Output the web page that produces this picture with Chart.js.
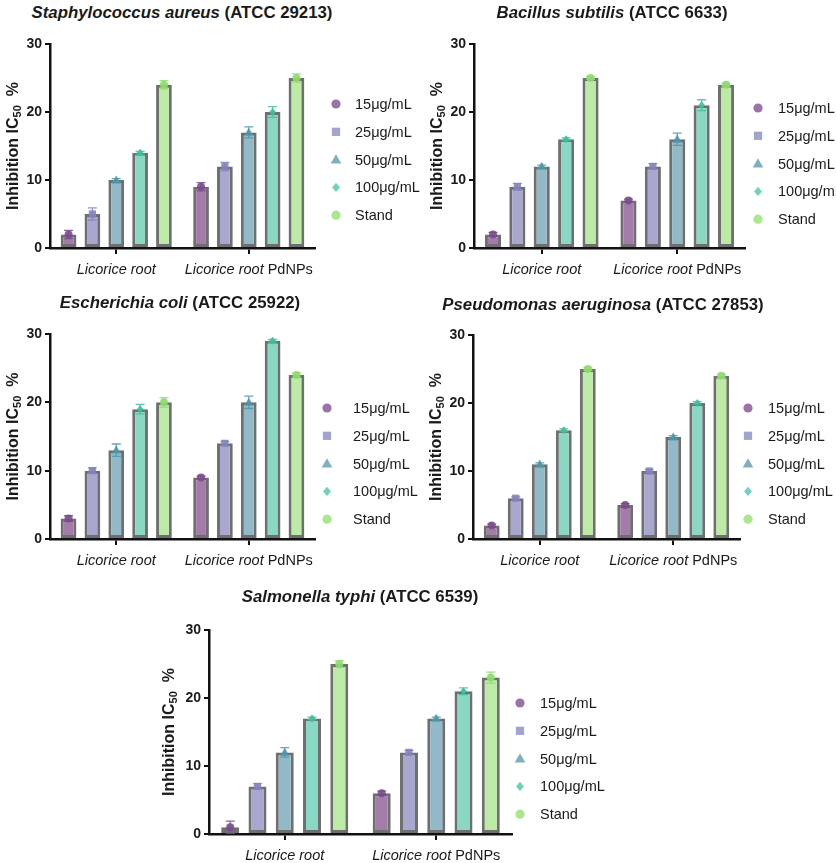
<!DOCTYPE html>
<html><head><meta charset="utf-8">
<script src="https://cdn.jsdelivr.net/npm/chart.js@4.4.0/dist/chart.umd.min.js"></script>
<style>
html,body{margin:0;padding:0;background:#fff;}
#wrap{position:relative;width:836px;height:863px;overflow:hidden;background:#fff;}
#wrap canvas{position:absolute;left:0;top:0;}
.ttl{position:absolute;width:440px;text-align:center;font:bold 16.8px "Liberation Sans",Arial,sans-serif;color:#1a1a1a;white-space:nowrap;line-height:20px;}
</style></head><body><div id="wrap"></div>
<script>
// ---- data ----
const categories = ['Licorice root', 'Licorice root PdNPs'];
const seriesLabels = ['15μg/mL', '25μg/mL', '50μg/mL', '100μg/mL', 'Stand'];
const yTicks = [0, 10, 20, 30];

// Staphylococcus aureus (ATCC 29213)
const saRoot = [2, 5, 10, 14, 24];
const saPdNPs = [9, 12, 17, 20, 25];
const saRootErr = [0.6, 0.9, 0.2, 0.2, 0.6];
const saPdNPsErr = [0.6, 0.6, 0.8, 0.8, 0.6];
// Bacillus subtilis (ATCC 6633)
const bsRoot = [2, 9, 12, 16, 25];
const bsPdNPs = [7, 12, 16, 21, 24];
const bsRootErr = [0.3, 0.5, 0.2, 0.2, 0.2];
const bsPdNPsErr = [0.2, 0.4, 0.9, 0.8, 0.2];
// Escherichia coli (ATCC 25922)
const ecRoot = [3, 10, 13, 19, 20];
const ecPdNPs = [9, 14, 20, 29, 24];
const ecRootErr = [0.4, 0.4, 0.9, 0.7, 0.7];
const ecPdNPsErr = [0.2, 0.3, 0.9, 0.2, 0.3];
// Pseudomonas aeruginosa (ATCC 27853)
const paRoot = [2, 6, 11, 16, 25];
const paPdNPs = [5, 10, 15, 20, 24];
const paRootErr = [0.2, 0.2, 0.2, 0.2, 0.2];
const paPdNPsErr = [0.2, 0.2, 0.2, 0.2, 0.2];
// Salmonella typhi (ATCC 6539)
const stRoot = [1, 7, 12, 17, 25];
const stPdNPs = [6, 12, 17, 21, 23];
const stRootErr = [0.9, 0.4, 0.7, 0.2, 0.5];
const stPdNPsErr = [0.3, 0.3, 0.2, 0.5, 0.8];

// ---- styles ----
const FONT = '"Liberation Sans", Arial, sans-serif';
const barFill = ['#a47ca9', '#a7a7cf', '#92b9c7', '#89d8c4', '#bceba5'];
const markerCol = ['#7a4b8c', '#8383bd', '#4d97ad', '#3dbf9f', '#8edc6d'];
const legendCol = ['#9b73a8', '#a3a3cf', '#80b0c0', '#6fd3b9', '#a9e891'];
const markerStyle = ['circle', 'rect', 'triangle', 'rectRot', 'circle'];

const panels = [
  {title: ['Staphylococcus aureus', ' (ATCC 29213)'], root: saRoot, pd: saPdNPs, rootErr: saRootErr, pdErr: saPdNPsErr,
   area: {l: 50, r: 315, t: 44, b: 248}, tc: [182, 13], ytx: 12, leg: {mx: 336, tx: 355, y0: 104}},
  {title: ['Bacillus subtilis', ' (ATCC 6633)'], root: bsRoot, pd: bsPdNPs, rootErr: bsRootErr, pdErr: bsPdNPsErr,
   area: {l: 474, r: 745, t: 44, b: 248}, tc: [612, 13], ytx: 436, leg: {mx: 758, tx: 778, y0: 108}},
  {title: ['Escherichia coli', ' (ATCC 25922)'], root: ecRoot, pd: ecPdNPs, rootErr: ecRootErr, pdErr: ecPdNPsErr,
   area: {l: 50, r: 315, t: 334, b: 539}, tc: [180, 303], ytx: 12, leg: {mx: 327, tx: 353, y0: 408}},
  {title: ['Pseudomonas aeruginosa', ' (ATCC 27853)'], root: paRoot, pd: paPdNPs, rootErr: paRootErr, pdErr: paPdNPsErr,
   area: {l: 473, r: 740, t: 335, b: 539}, tc: [603, 305], ytx: 435, leg: {mx: 748, tx: 768, y0: 408}},
  {title: ['Salmonella typhi', ' (ATCC 6539)'], root: stRoot, pd: stPdNPs, rootErr: stRootErr, pdErr: stPdNPsErr,
   area: {l: 209, r: 512, t: 630, b: 834}, tc: [360, 597], ytx: 168, leg: {mx: 520, tx: 540, y0: 703}}
];

function shape(ctx, style, x, y, r) {
  ctx.beginPath();
  if (style === 'circle') { ctx.arc(x, y, r, 0, Math.PI * 2); }
  else if (style === 'rect') { const s = r * 0.9; ctx.rect(x - s, y - s, 2 * s, 2 * s); }
  else if (style === 'triangle') { const h = r * 1.15; ctx.moveTo(x, y - h); ctx.lineTo(x + h, y + h * 0.75); ctx.lineTo(x - h, y + h * 0.75); ctx.closePath(); }
  else if (style === 'rectRot') { ctx.moveTo(x, y - r); ctx.lineTo(x + r * 0.85, y); ctx.lineTo(x, y + r); ctx.lineTo(x - r * 0.85, y); ctx.closePath(); }
  ctx.fill();
}

const decorPlugin = {
  id: 'decor',
  afterDatasetsDraw(chart, args, opts) {
    const ctx = chart.ctx, ys = chart.scales.y;
    ctx.save();
    chart.data.datasets.forEach((ds, d) => {
      const meta = chart.getDatasetMeta(d);
      meta.data.forEach((el, i) => {
        const v = ds.data[i], e = ds.errors[i];
        const x = el.x, yTop = ys.getPixelForValue(v + e), yBot = ys.getPixelForValue(v - e);
        ctx.strokeStyle = ds.markerColor; ctx.globalAlpha = 0.85; ctx.lineWidth = 1.3;
        ctx.beginPath();
        ctx.moveTo(x, yTop); ctx.lineTo(x, yBot);
        ctx.moveTo(x - 4.5, yTop); ctx.lineTo(x + 4.5, yTop);
        ctx.moveTo(x - 4.5, yBot); ctx.lineTo(x + 4.5, yBot);
        ctx.stroke();
        ctx.globalAlpha = 0.9;
        ctx.fillStyle = ds.markerColor;
        shape(ctx, ds.pointStyle, x, el.y, 4);
      });
    });
    ctx.restore();
  },
  afterDraw(chart, args, opts) {
    const ctx = chart.ctx, xs = chart.scales.x, area = chart.chartArea;
    ctx.save();
    // category labels (italic species part + normal suffix)
    ctx.textBaseline = 'middle'; ctx.fillStyle = '#1a1a1a';
    chart.data.labels.forEach((lab, i) => {
      const it = 'Licorice root';
      const rest = lab.slice(it.length);
      ctx.font = 'italic 14.5px ' + FONT; const w1 = ctx.measureText(it).width;
      ctx.font = '14.5px ' + FONT; const w2 = ctx.measureText(rest).width;
      const cx = xs.getPixelForValue(i), x0 = cx - (w1 + w2) / 2, y = area.bottom + 22;
      ctx.textAlign = 'left';
      ctx.font = 'italic 14.5px ' + FONT; ctx.fillText(it, x0, y);
      ctx.font = '14.5px ' + FONT; ctx.fillText(rest, x0 + w1, y);
    });
    // y axis title with subscript
    const cy = (area.top + area.bottom) / 2;
    ctx.translate(opts.ytx, cy); ctx.rotate(-Math.PI / 2);
    const a = 'Inhibition IC', s = '50', b = '  %';
    ctx.font = 'bold 16px ' + FONT; const wa = ctx.measureText(a).width, wb = ctx.measureText(b).width;
    ctx.font = 'bold 11px ' + FONT; const ws = ctx.measureText(s).width;
    let x = -(wa + ws + wb) / 2;
    ctx.textBaseline = 'alphabetic'; ctx.textAlign = 'left';
    ctx.font = 'bold 16px ' + FONT; ctx.fillText(a, x, 6); x += wa;
    ctx.font = 'bold 11px ' + FONT; ctx.fillText(s, x, 9); x += ws;
    ctx.font = 'bold 16px ' + FONT; ctx.fillText(b, x, 6);
    ctx.restore();
    // legend
    ctx.save();
    ctx.textBaseline = 'middle'; ctx.textAlign = 'left';
    ctx.font = '14.5px ' + FONT;
    chart.data.datasets.forEach((ds, i) => {
      const y = opts.y0 + i * 27.8;
      ctx.fillStyle = ds.legendColor;
      shape(ctx, ds.pointStyle, opts.mx, y, 4.6);
      ctx.fillStyle = '#1a1a1a';
      ctx.fillText(ds.label, opts.tx, y + 1);
    });
    ctx.restore();
  }
};

const wrap = document.getElementById('wrap');
panels.forEach(p => {
  const t = document.createElement('div');
  t.className = 'ttl';
  t.style.left = (p.tc[0] - 220) + 'px';
  t.style.top = (p.tc[1] - 10) + 'px';
  const em = document.createElement('i'); em.textContent = p.title[0];
  t.appendChild(em); t.appendChild(document.createTextNode(p.title[1]));
  wrap.appendChild(t);

  const cv = document.createElement('canvas');
  cv.width = 836; cv.height = 863;
  cv.style.width = '836px'; cv.style.height = '863px';
  wrap.appendChild(cv);
  const yW = 40, xH = 30;
  new Chart(cv, {
    type: 'bar',
    data: {
      labels: categories,
      datasets: seriesLabels.map((lab, i) => ({
        label: lab,
        data: [p.root[i], p.pd[i]],
        errors: [p.rootErr[i], p.pdErr[i]],
        backgroundColor: barFill[i],
        borderColor: 'rgba(95,95,95,0.9)',
        borderWidth: 3,
        borderSkipped: false,
        pointStyle: markerStyle[i],
        markerColor: markerCol[i],
        legendColor: legendCol[i],
        categoryPercentage: 0.9,
        barPercentage: 0.66
      }))
    },
    options: {
      responsive: false, animation: false, devicePixelRatio: 1,
      layout: {padding: {left: p.area.l - yW, top: p.area.t, right: 836 - p.area.r, bottom: 863 - p.area.b - xH}},
      plugins: {legend: {display: false}, tooltip: {enabled: false}, decor: {ytx: p.ytx, mx: p.leg.mx, tx: p.leg.tx, y0: p.leg.y0}},
      scales: {
        x: {
          ticks: {display: false},
          grid: {display: true, drawOnChartArea: false, drawTicks: true, tickLength: 6, color: '#111', lineWidth: 2, offset: false},
          border: {display: true, color: '#111', width: 2.5},
          afterFit: s => { s.height = xH; }
        },
        y: {
          min: 0, max: 30,
          afterBuildTicks: s => { s.ticks = yTicks.map(v => ({value: v})); },
          ticks: {font: {family: FONT, size: 14, weight: 'bold'}, color: '#1a1a1a', padding: 3},
          grid: {display: true, drawOnChartArea: false, drawTicks: true, tickLength: 5, color: '#111', lineWidth: 2},
          border: {display: true, color: '#111', width: 2.5},
          afterFit: s => { s.width = yW; }
        }
      }
    },
    plugins: [decorPlugin]
  });
});
</script>
</body></html>
